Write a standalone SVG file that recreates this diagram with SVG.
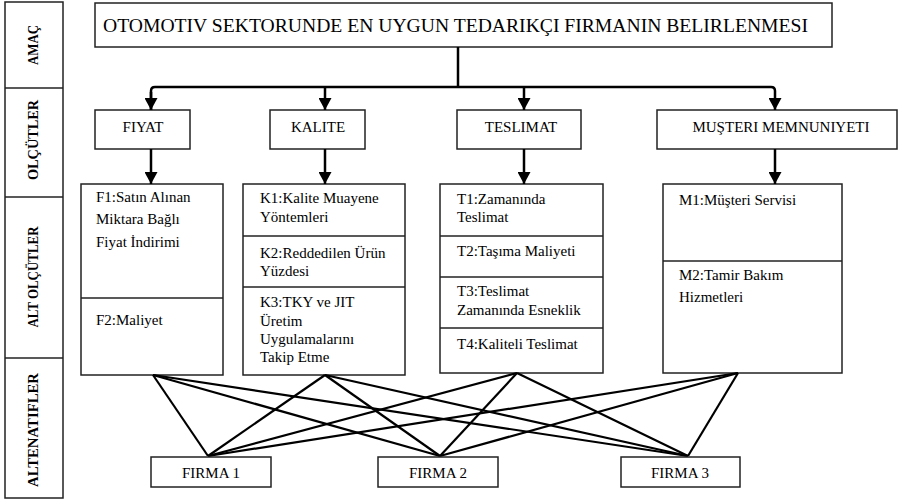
<svg xmlns="http://www.w3.org/2000/svg" width="902" height="504" viewBox="0 0 902 504">
<style>
.box{fill:#fff;stroke:#222;stroke-width:1.5}
.div{stroke:#222;stroke-width:1.5}
.t{font-family:"Liberation Serif","Times New Roman",serif;font-size:15px;fill:#000}
.c{text-anchor:middle}
.lbl{font-family:"Liberation Serif","Times New Roman",serif;font-size:14px;font-weight:bold;fill:#000;text-anchor:middle;dominant-baseline:central}
.conn{stroke:#000;stroke-width:2.5;fill:none}
.link{stroke:#000;stroke-width:2.2;fill:none}
</style>
<defs>
<marker id="arr" viewBox="0 0 12 13" refX="12" refY="6.5" markerWidth="12" markerHeight="13" markerUnits="userSpaceOnUse" orient="auto">
<path d="M0,0 L12,6.5 L0,13 z" fill="#000"/>
</marker>
</defs>
<rect width="902" height="504" fill="#fff"/>

<g id="levels">
<rect class="box" x="5" y="2" width="58" height="496"/>
<line class="div" x1="5" y1="88" x2="63" y2="88"/>
<line class="div" x1="5" y1="197" x2="63" y2="197"/>
<line class="div" x1="5" y1="358" x2="63" y2="358"/>
<text class="lbl" transform="translate(33,45) rotate(-90)" textLength="40" lengthAdjust="spacingAndGlyphs">AMAÇ</text>
<text class="lbl" transform="translate(33,140) rotate(-90)" textLength="80" lengthAdjust="spacingAndGlyphs">OLÇÜTLER</text>
<text class="lbl" transform="translate(33,277) rotate(-90)" textLength="101" lengthAdjust="spacingAndGlyphs">ALT OLÇÜTLER</text>
<text class="lbl" transform="translate(33,430) rotate(-90)" textLength="114" lengthAdjust="spacingAndGlyphs">ALTENATIFLER</text>
</g>

<g id="goal">
<rect class="box" x="95" y="3" width="737" height="44"/>
<text class="t" x="103" y="32" style="font-size:19px" textLength="705" lengthAdjust="spacingAndGlyphs">OTOMOTIV SEKTORUNDE EN UYGUN TEDARIKÇI FIRMANIN BELIRLENMESI</text>
</g>

<g id="c-fiyat">
<rect class="box" x="95" y="110" width="95" height="39"/>
<text class="t c" x="143" y="132">FIYAT</text>
</g>
<g id="c-kalite">
<rect class="box" x="270" y="110" width="95" height="39"/>
<text class="t c" x="318" y="132">KALITE</text>
</g>
<g id="c-teslimat">
<rect class="box" x="457" y="110" width="124" height="39"/>
<text class="t c" x="521" y="132">TESLIMAT</text>
</g>
<g id="c-musteri">
<rect class="box" x="657" y="110" width="240" height="39"/>
<text class="t c" x="781" y="132">MUŞTERI MEMNUNIYETI</text>
</g>

<g id="s-fiyat">
<rect class="box" x="81" y="184" width="142" height="191"/>
<line class="div" x1="81" y1="298" x2="223" y2="298"/>
<text class="t" x="96" y="202">F1:Satın Alınan</text>
<text class="t" x="96" y="224">Miktara Bağlı</text>
<text class="t" x="96" y="247">Fiyat İndirimi</text>
<text class="t" x="96" y="325">F2:Maliyet</text>
</g>
<g id="s-kalite">
<rect class="box" x="243" y="184" width="162" height="191"/>
<line class="div" x1="243" y1="236" x2="405" y2="236"/>
<line class="div" x1="243" y1="287" x2="405" y2="287"/>
<text class="t" x="260" y="203">K1:Kalite Muayene</text>
<text class="t" x="260" y="222">Yöntemleri</text>
<text class="t" x="260" y="258">K2:Reddedilen Ürün</text>
<text class="t" x="260" y="276">Yüzdesi</text>
<text class="t" x="260" y="307">K3:TKY ve JIT</text>
<text class="t" x="260" y="326">Üretim</text>
<text class="t" x="260" y="344">Uygulamalarını</text>
<text class="t" x="260" y="362">Takip Etme</text>
</g>
<g id="s-teslimat">
<rect class="box" x="440" y="184" width="163" height="189"/>
<line class="div" x1="440" y1="236" x2="603" y2="236"/>
<line class="div" x1="440" y1="277" x2="603" y2="277"/>
<line class="div" x1="440" y1="328" x2="603" y2="328"/>
<text class="t" x="457" y="204">T1:Zamanında</text>
<text class="t" x="457" y="222">Teslimat</text>
<text class="t" x="457" y="256">T2:Taşıma  Maliyeti</text>
<text class="t" x="457" y="296">T3:Teslimat</text>
<text class="t" x="457" y="315">Zamanında  Esneklik</text>
<text class="t" x="457" y="349">T4:Kaliteli Teslimat</text>
</g>
<g id="s-musteri">
<rect class="box" x="663" y="184" width="179" height="189"/>
<line class="div" x1="663" y1="261" x2="842" y2="261"/>
<text class="t" x="679" y="205">M1:Müşteri Servisi</text>
<text class="t" x="679" y="280">M2:Tamir  Bakım</text>
<text class="t" x="679" y="302">Hizmetleri</text>
</g>

<g id="connectors">
<path class="conn" d="M458,47 V87"/>
<path class="conn" d="M151,110 V91 Q151,87 155,87 H771 Q775,87 775,91 V110" marker-end="url(#arr)"/>
<path class="conn" d="M151,92 V110" marker-end="url(#arr)"/>
<path class="conn" d="M325,87 V110" marker-end="url(#arr)"/>
<path class="conn" d="M524,87 V110" marker-end="url(#arr)"/>
<path class="conn" d="M151,149 V184" marker-end="url(#arr)"/>
<path class="conn" d="M325,149 V184" marker-end="url(#arr)"/>
<path class="conn" d="M524,149 V184" marker-end="url(#arr)"/>
<path class="conn" d="M775,149 V184" marker-end="url(#arr)"/>
<line class="link" x1="153" y1="375" x2="208" y2="456"/>
<line class="link" x1="153" y1="375" x2="440" y2="456"/>
<line class="link" x1="153" y1="375" x2="688" y2="456"/>
<line class="link" x1="325" y1="375" x2="208" y2="456"/>
<line class="link" x1="325" y1="375" x2="440" y2="456"/>
<line class="link" x1="325" y1="375" x2="688" y2="456"/>
<line class="link" x1="517" y1="373" x2="208" y2="456"/>
<line class="link" x1="517" y1="373" x2="440" y2="456"/>
<line class="link" x1="517" y1="373" x2="688" y2="456"/>
<line class="link" x1="738" y1="373" x2="208" y2="456"/>
<line class="link" x1="738" y1="373" x2="440" y2="456"/>
<line class="link" x1="738" y1="373" x2="688" y2="456"/>
</g>

<g id="firma1">
<rect class="box" x="151" y="457" width="120" height="30"/>
<text class="t c" x="211" y="478">FIRMA 1</text>
</g>
<g id="firma2">
<rect class="box" x="378" y="457" width="120" height="30"/>
<text class="t c" x="438" y="478">FIRMA 2</text>
</g>
<g id="firma3">
<rect class="box" x="621" y="457" width="119" height="30"/>
<text class="t c" x="680" y="478">FIRMA 3</text>
</g>
</svg>
